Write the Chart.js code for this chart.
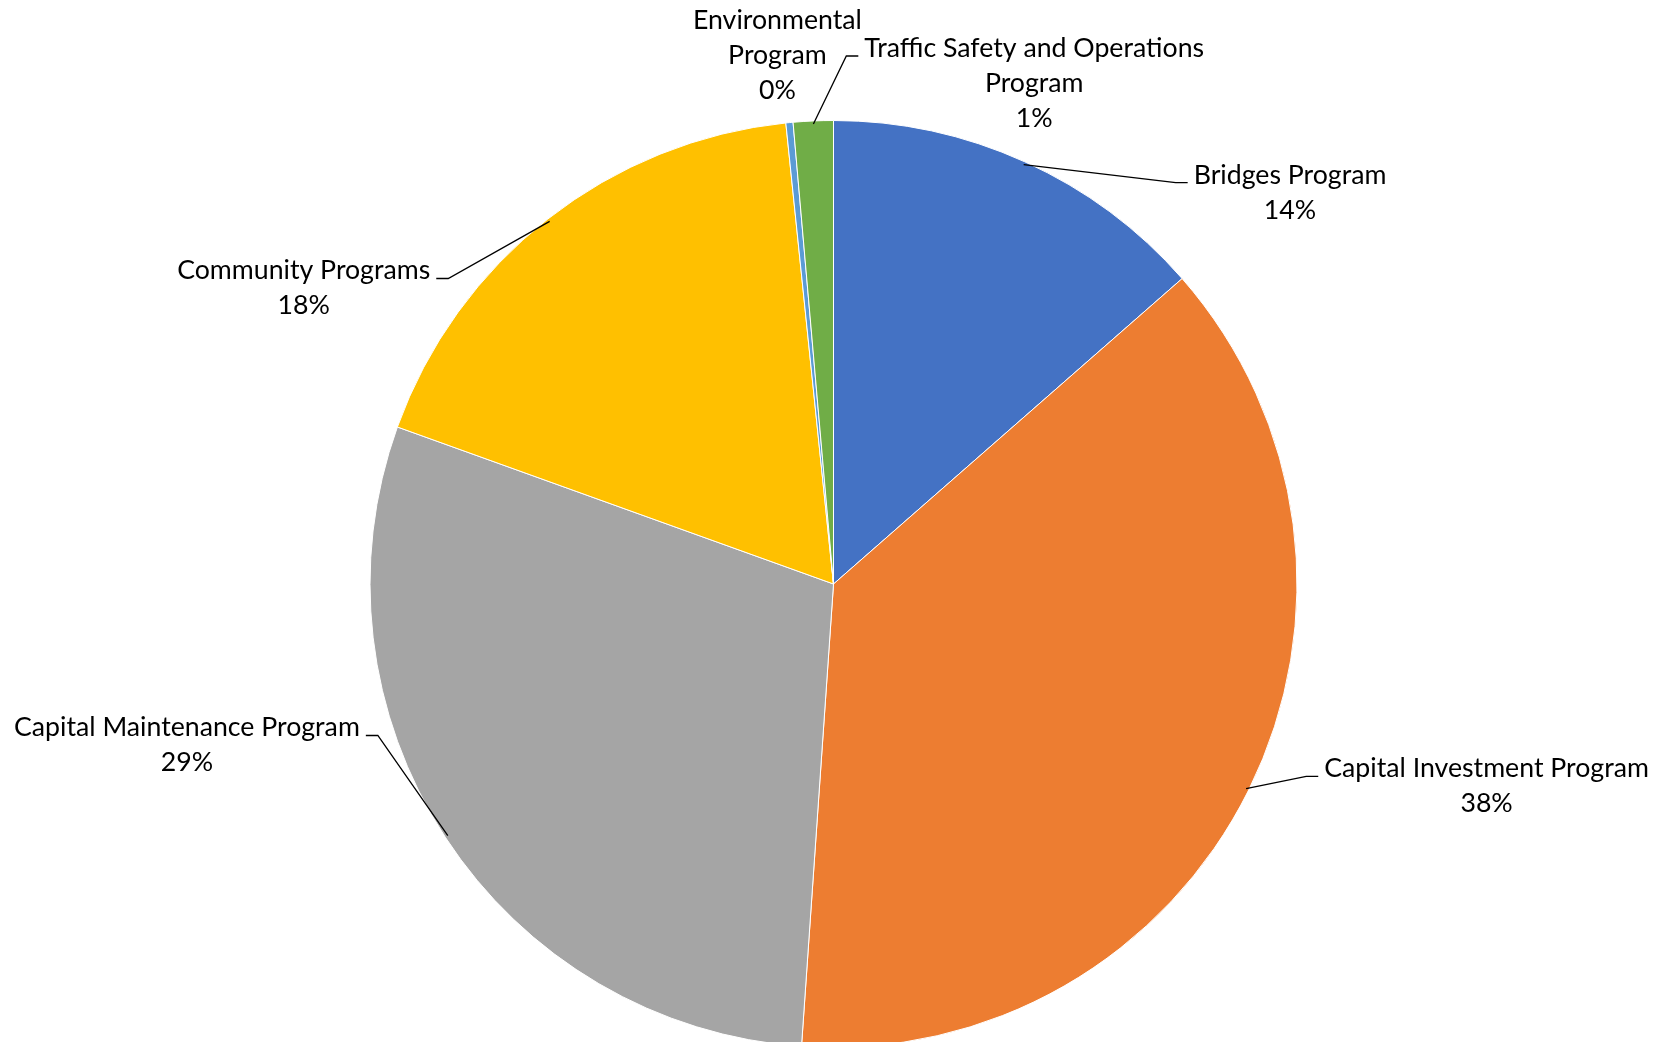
<!DOCTYPE html>
<html>
<head>
<meta charset="utf-8">
<script src="https://cdn.jsdelivr.net/npm/chart.js@4.4.1/dist/chart.umd.min.js"></script>
<style>
    html, body { margin: 0; padding: 0; background: #fff; overflow: hidden; }
    #wrap { width: 1665px; height: 1042px; overflow: hidden; }
</style>
</head>
<body>
<div id="wrap"><canvas id="programChart" width="1665" height="1048"></canvas></div>
<script>
// Program shares (percent of total), clockwise from 12 o'clock
const programNames = [
    ['Bridges Program'],
    ['Capital Investment Program'],
    ['Capital Maintenance Program'],
    ['Community Programs'],
    ['Environmental', 'Program'],
    ['Traffic Safety and Operations', 'Program']
];
const programShares = [13.55, 37.55, 29.4, 17.86, 0.25, 1.39];
const sliceColors = ['#4472C4', '#ED7D31', '#A5A5A5', '#FFC000', '#5B9BD5', '#70AD47'];

// label placement, in pie radii from the centre (text centre x, first baseline y)
const labelOffsets = [
    { ox: 0.985, oy: -0.864, leader: true },
    { ox: 1.409, oy: 0.417, leader: true },
    { ox: -1.395, oy: 0.329, leader: true },
    { ox: -1.143, oy: -0.657, leader: true },
    { ox: -0.121, oy: -1.198, leader: false },
    { ox: 0.433, oy: -1.137, leader: true }
];

const FONT = '26.7px Lato';
const LINE_H = 35;

const outsideLabels = {
    id: 'outsideLabels',
    afterDraw(chart) {
        const ctx = chart.ctx;
        const meta = chart.getDatasetMeta(0);
        const total = programShares.reduce((a, b) => a + b, 0);

        ctx.save();
        ctx.font = FONT;
        ctx.fillStyle = '#000';
        ctx.strokeStyle = '#000';
        ctx.lineWidth = 1.3;
        ctx.textAlign = 'center';
        ctx.textBaseline = 'alphabetic';

        meta.data.forEach((arc, i) => {
            const p = arc.getProps(['x', 'y', 'startAngle', 'endAngle', 'outerRadius'], true);
            const r = p.outerRadius;
            const lay = labelOffsets[i];
            const lx = p.x + lay.ox * r;
            const ly = p.y + lay.oy * r;

            const lines = programNames[i].concat([Math.round(programShares[i] / total * 100) + '%']);
            lines.forEach((t, k) => ctx.fillText(t, lx, ly + k * LINE_H));

            if (!lay.leader) return;

            // leader line: from slice edge at mid angle to an elbow beside the first line
            const mid = (p.startAngle + p.endAngle) / 2;
            const sx = p.x + Math.cos(mid) * (r - 3);
            const sy = p.y + Math.sin(mid) * (r - 3);
            const w = ctx.measureText(lines[0]).width;
            const right = lx > sx;
            const endX = right ? lx - w / 2 - 6 : lx + w / 2 + 6;
            const elbowX = right ? endX - 12 : endX + 12;
            const lineY = ly - 1;

            ctx.beginPath();
            ctx.moveTo(sx, sy);
            ctx.lineTo(elbowX, lineY);
            ctx.lineTo(endX, lineY);
            ctx.stroke();
        });
        ctx.restore();
    }
};

new Chart(document.getElementById('programChart'), {
    type: 'pie',
    data: {
        labels: programNames.map(n => n.join(' ')),
        datasets: [{
            data: programShares,
            backgroundColor: sliceColors,
            borderColor: '#ffffff',
            borderWidth: 1
        }]
    },
    options: {
        responsive: false,
        animation: false,
        layout: { padding: { top: 120, left: 2, right: 0, bottom: 0 } },
        plugins: {
            legend: { display: false },
            tooltip: { enabled: false }
        }
    },
    plugins: [outsideLabels]
});
</script>
</body>
</html>
